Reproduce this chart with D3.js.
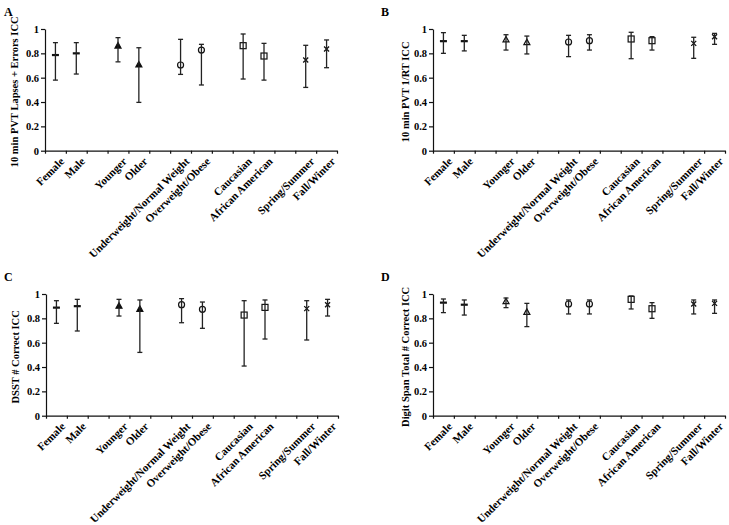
<!DOCTYPE html>
<html><head><meta charset="utf-8">
<script src="https://cdn.jsdelivr.net/npm/d3@7"></script>
<style>
body{margin:0;background:#fff;}
text{font-family:"Liberation Serif","Times New Roman",serif;font-weight:bold;fill:#000;}
</style></head>
<body><svg id="c" width="729" height="525"></svg>
<script>
// slots along the x axis (blank slots separate groups)
const slots = ["Female","Male","","Younger","Older","","Underweight/Normal Weight","Overweight/Obese","","Caucasian","African American","","Spring/Summer","Fall/Winter"];
const categories = ["Female","Male","Younger","Older","Underweight/Normal Weight","Overweight/Obese","Caucasian","African American","Spring/Summer","Fall/Winter"];
const markers = ["dash","dash","triangle","triangle","circle","circle","square","square","cross","cross"];
const yTicks = [0,0.2,0.4,0.6,0.8,1];

// Panel A: 10 min PVT Lapses + Errors ICC
const lapsesICC   = [0.786,0.800,0.860,0.704,0.704,0.827,0.863,0.778,0.745,0.836];
const lapsesLower = [0.580,0.630,0.730,0.397,0.627,0.540,0.589,0.580,0.520,0.682];
const lapsesUpper = [0.888,0.888,0.929,0.846,0.915,0.874,0.959,0.882,0.866,0.910];
// Panel B: 10 min PVT 1/RT ICC
const rtICC   = [0.900,0.900,0.910,0.888,0.893,0.904,0.918,0.904,0.882,0.937];
const rtLower = [0.800,0.820,0.827,0.795,0.773,0.827,0.756,0.827,0.759,0.874];
const rtUpper = [0.970,0.948,0.953,0.942,0.948,0.953,0.973,0.937,0.932,0.964];
// Panel C: DSST # Correct ICC
const dsstICC   = [0.888,0.900,0.900,0.874,0.912,0.874,0.827,0.890,0.880,0.912];
const dsstLower = [0.759,0.696,0.819,0.520,0.764,0.718,0.408,0.630,0.622,0.819];
const dsstUpper = [0.945,0.956,0.956,0.951,0.962,0.934,0.945,0.951,0.945,0.956];
// Panel D: Digit Span Total # Correct ICC
const spanICC   = [0.929,0.912,0.937,0.849,0.918,0.918,0.956,0.879,0.918,0.923];
const spanLower = [0.847,0.827,0.888,0.732,0.836,0.836,0.877,0.800,0.836,0.841];
const spanUpper = [0.959,0.951,0.967,0.923,0.951,0.951,0.984,0.929,0.951,0.951];

const panels = [
  {label:"A", title:"10 min PVT Lapses + Errors ICC", icc:lapsesICC, lo:lapsesLower, hi:lapsesUpper, x0:45, x1:337, y0:29, y1:150.7, tx:14, lx:4, ly:16, triFill:"#000"},
  {label:"B", title:"10 min PVT 1/RT ICC", icc:rtICC, lo:rtLower, hi:rtUpper, x0:433, x1:725, y0:29, y1:150.7, tx:405, lx:381, ly:16, triFill:"none"},
  {label:"C", title:"DSST # Correct ICC", icc:dsstICC, lo:dsstLower, hi:dsstUpper, x0:46, x1:338, y0:294, y1:415.7, tx:15, lx:4, ly:281, triFill:"#000"},
  {label:"D", title:"Digit Span Total # Correct ICC", icc:spanICC, lo:spanLower, hi:spanUpper, x0:433, x1:725, y0:294, y1:415.7, tx:405, lx:381, ly:281, triFill:"none"}
];

const svg = d3.select("#c");
const ink = "#111";

panels.forEach(p => {
  const g = svg.append("g");
  const y = d3.scaleLinear().domain([0,1]).range([p.y1,p.y0]);
  const xb = d3.scaleBand().domain(d3.range(slots.length)).range([p.x0,p.x1]).padding(0);
  const xl = d3.scaleLinear().domain([0,slots.length]).range([p.x0,p.x1]);

  // panel letter
  g.append("text").attr("x",p.lx).attr("y",p.ly).attr("font-size",12).text(p.label);

  // y axis
  const ya = g.append("g").attr("transform",`translate(${p.x0},0)`)
    .call(d3.axisLeft(y).tickValues(yTicks).tickSize(4).tickSizeOuter(0)
      .tickFormat(d => (d===0||d===1) ? String(d) : d.toFixed(1)));
  ya.selectAll("text").attr("font-size",10.5).attr("font-family","Liberation Serif").attr("font-weight","bold").attr("x",-6);
  ya.selectAll("line,path").attr("stroke",ink).attr("stroke-width",1.2);

  // x axis with ticks at slot boundaries
  const xa = g.append("g").attr("transform",`translate(0,${p.y1})`)
    .call(d3.axisBottom(xl).tickValues(d3.range(slots.length+1)).tickSize(3).tickSizeOuter(0).tickFormat(""));
  xa.selectAll("line,path").attr("stroke",ink).attr("stroke-width",1.2);

  // category labels
  slots.forEach((s,i) => {
    if (!s) return;
    const cx = xb(i) + xb.bandwidth()/2;
    g.append("text")
      .attr("transform",`translate(${cx+4},${p.y1+6}) rotate(-45)`)
      .attr("text-anchor","end").attr("dy","0.7em").attr("font-size",11).text(s);
  });

  // y title
  g.append("text")
    .attr("transform",`translate(${p.tx},${(p.y0+p.y1)/2+2}) rotate(-90)`)
    .attr("text-anchor","middle").attr("dy","0.35em").attr("font-size",10.5).text(p.title);

  // data points
  const pos = categories.map(c => slots.indexOf(c));
  categories.forEach((c,i) => {
    const cx = xb(pos[i]) + xb.bandwidth()/2;
    const cy = y(p.icc[i]);
    const m = markers[i];
    const mg = g.append("g");
    if (m==="dash") {
      mg.append("line").attr("x1",cx-3.5).attr("x2",cx+3.5).attr("y1",cy).attr("y2",cy).attr("stroke",ink).attr("stroke-width",2.2);
    } else if (m==="triangle") {
      mg.append("path").attr("d",`M${cx},${cy-3.5}L${cx+3},${cy+2}L${cx-3},${cy+2}Z`)
        .attr("fill",p.triFill).attr("stroke",ink).attr("stroke-width",1.2);
    } else if (m==="circle") {
      mg.append("circle").attr("cx",cx).attr("cy",cy).attr("r",3).attr("fill","none").attr("stroke",ink).attr("stroke-width",1.2);
    } else if (m==="square") {
      mg.append("rect").attr("x",cx-3).attr("y",cy-3).attr("width",6).attr("height",6).attr("fill","none").attr("stroke",ink).attr("stroke-width",1.2);
    } else if (m==="cross") {
      mg.append("path").attr("d",`M${cx-2.5},${cy-2.5}L${cx+2.5},${cy+2.5}M${cx-2.5},${cy+2.5}L${cx+2.5},${cy-2.5}`)
        .attr("stroke",ink).attr("stroke-width",1.3);
    }
    const yl = y(p.lo[i]), yh = y(p.hi[i]);
    mg.append("line").attr("x1",cx).attr("x2",cx).attr("y1",yl).attr("y2",yh).attr("stroke","#222").attr("stroke-width",1.3);
    [yl,yh].forEach(v => mg.append("line").attr("x1",cx-2.5).attr("x2",cx+2.5).attr("y1",v).attr("y2",v).attr("stroke","#222").attr("stroke-width",1.3));
  });
});
</script></body></html>
